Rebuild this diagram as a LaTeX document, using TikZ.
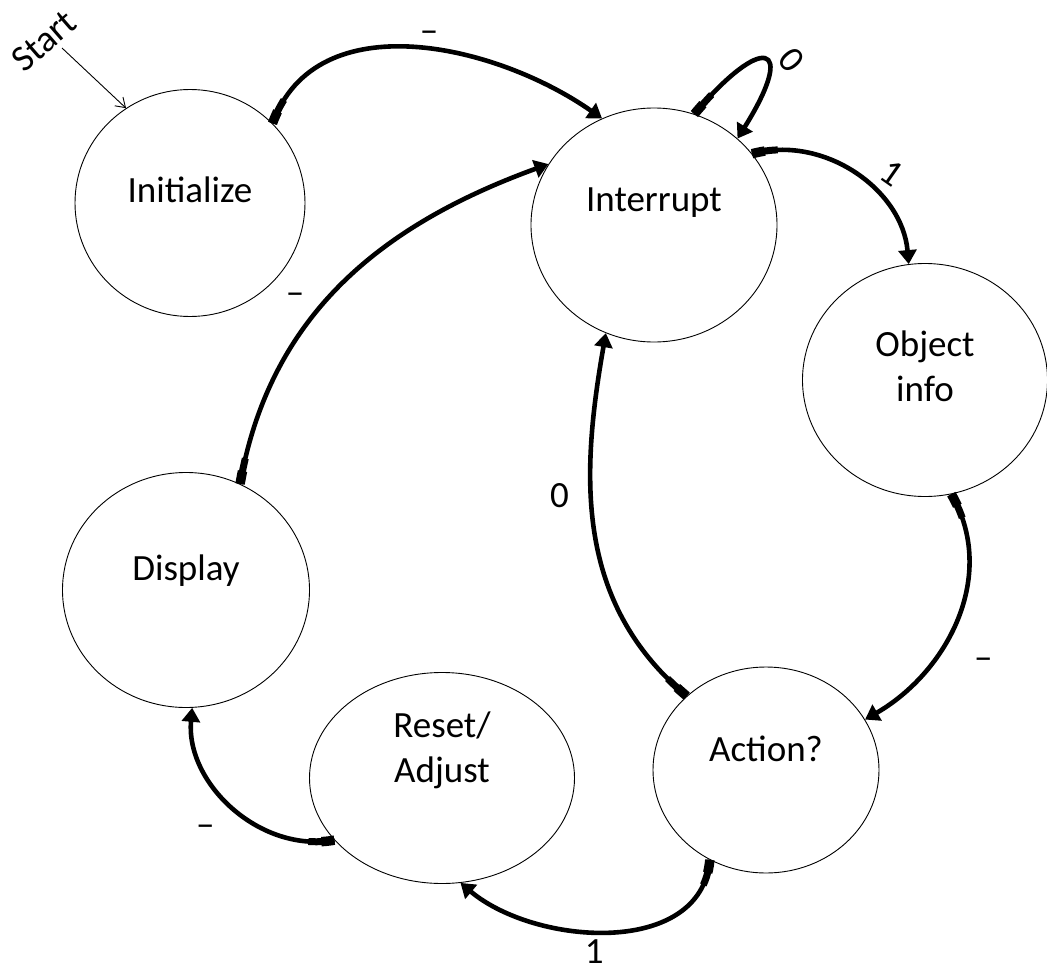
\documentclass[tikz,border=0pt]{standalone}
\usepackage{fontspec}
\setmainfont{Carlito}
\usepackage{tikz}
\usetikzlibrary{arrows.meta,shapes.geometric}

\tikzset{
  state/.style={ellipse, draw, line width=0.9pt, inner sep=0pt},
  trans/.style={line width=4.6pt, -{Triangle[length=14pt,width=18pt]},
    postaction={draw, -, line width=7pt, dash pattern=on 26pt off 4000pt},
    postaction={draw, -, line width=9.5pt, dash pattern=on 13pt off 4000pt}},
}

\begin{document}
\begin{tikzpicture}[x=1pt, y=1pt, font=\fontsize{37}{45}\selectfont]
  \useasboundingbox (0,0) rectangle (1047,-974);

  % states
  \node[state, minimum width=230pt, minimum height=227pt,
        label={[yshift=13pt]center:Initialize}] (init) at (190,-203) {};
  \node[state, minimum width=246pt, minimum height=234pt,
        label={[yshift=22pt]center:Interrupt}] (intr) at (654,-225) {};
  \node[state, minimum width=245pt, minimum height=233pt,
        label={[yshift=14pt, align=center]center:Object\\info}] (obj) at (925,-380) {};
  \node[state, minimum width=247pt, minimum height=235pt,
        label={[yshift=19pt]center:Display}] (disp) at (186,-590) {};
  \node[state, minimum width=265pt, minimum height=211pt,
        label={[yshift=28pt, align=center]center:Reset/\\Adjust}] (reset) at (442,-778) {};
  \node[state, minimum width=226pt, minimum height=206pt,
        label={[yshift=21pt]center:Action?}] (act) at (766,-770) {};

  % start
  \node[rotate=41, inner sep=0pt] (startlbl) at (44,-41) {Start};
  \coordinate (startpt) at (62,-48);
  \draw[line width=0.9pt, -{Straight Barb[length=9pt,width=12pt]}] (startpt) -- (init.124);

  % transitions
  \path[every edge/.append style={trans}, auto]
  (init.44)   edge[out=70, in=145] node {--} (intr.116)
  (intr.70)   edge[out=50, in=58, out distance=105pt, in distance=115pt]
                node[pos=0.5, rotate=-50, inner sep=6pt] {0} (intr.46)
  (intr.36)   edge[out=15, in=95] node[pos=0.55, rotate=-35, inner sep=8pt] {1} (obj.98)
  (obj.-77)   edge[out=-60, in=30] node[pos=0.56, inner sep=22pt] {--} (act.27)
  (act.137)   edge[out=140, in=-100] node[pos=0.6, inner sep=20pt] {0} (intr.-114)
  (act.-122)  edge[out=-95, in=-40] node[pos=0.55, inner sep=2pt, yshift=-4pt] {1} (reset.-80)
  (reset.-150) edge[out=190, in=-95] node[pos=0.5, inner sep=16pt] {--} (disp.-87)
  (disp.63)   edge[out=80, in=200] node[pos=0.4, inner sep=8pt] {--} (intr.150);
\end{tikzpicture}
\end{document}
